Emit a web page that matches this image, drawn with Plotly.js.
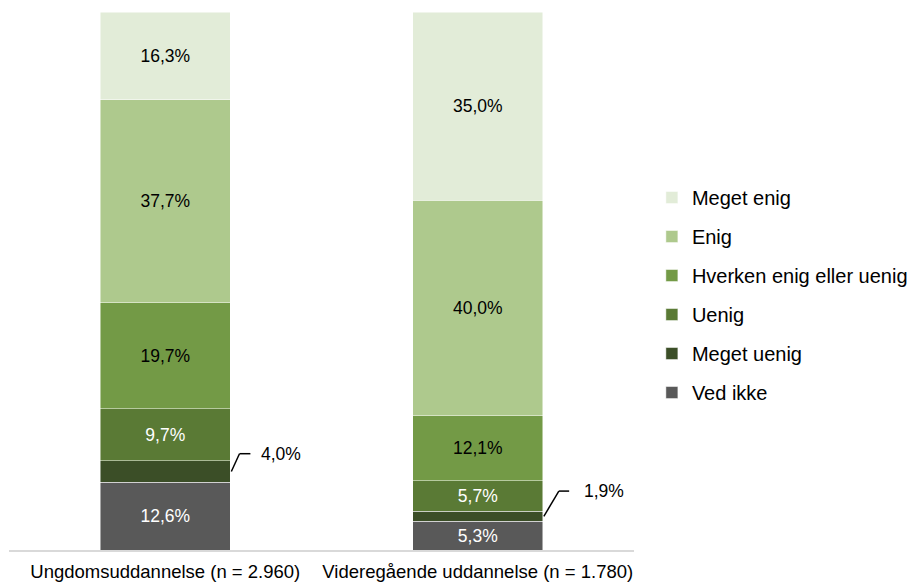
<!DOCTYPE html>
<html>
<head>
<meta charset="utf-8">
<script src="https://cdn.plot.ly/plotly-3.0.1.min.js"></script>
<style>html,body{margin:0;padding:0;background:#fff;}#chart{width:922px;height:582px;}</style>
</head>
<body>
<div id="chart"></div>
<script>
// ---- data ----
var categories = ["Ungdomsuddannelse (n = 2.960)", "Videregående uddannelse (n = 1.780)"];
var seriesNames = ["Ved ikke", "Meget uenig", "Uenig", "Hverken enig eller uenig", "Enig", "Meget enig"];
var vedIkke     = [12.6, 5.3];
var megetUenig  = [4.0, 1.9];
var uenig       = [9.7, 5.7];
var hverken     = [19.7, 12.1];
var enig        = [37.7, 40.0];
var megetEnig   = [16.3, 35.0];

// ---- styles ----
var colors = ["#595959", "#3B4E27", "#5A7A35", "#739A46", "#AEC98D", "#E2ECD8"];
var labelColors = ["#FFFFFF", "#FFFFFF", "#FFFFFF", "#000000", "#000000", "#000000"];
var insideLabel = [true, false, true, true, true, true];
var FONT = '"Liberation Sans", Arial, sans-serif';
var BARWIDTH = 0.415;
// callout offsets for the outside labels (Meget uenig)
var calloutElbowDx = [0.030, 0.052];
var calloutEndDx   = [0.065, 0.085];
var calloutTextDx  = [0.093, 0.126];
var calloutDy      = [3.3, 4.7];

var allSeries = [vedIkke, megetUenig, uenig, hverken, enig, megetEnig];
function fmt(v){ return v.toFixed(1).replace('.', ',') + '%'; }

var traces = allSeries.map(function(vals, i){
  return {
    type: 'bar',
    name: seriesNames[i],
    legendgroup: 'g' + i,
    legendrank: 100 - i,
    x: categories,
    y: vals,
    width: BARWIDTH,
    marker: {color: colors[i], line: {color: 'rgba(255,255,255,0.6)', width: 0.8}},
    text: vals.map(function(v){ return insideLabel[i] ? fmt(v) : ''; }),
    textposition: insideLabel[i] ? 'inside' : 'none',
    insidetextanchor: 'middle',
    textangle: 0,
    constraintext: 'none',
    insidetextfont: {family: FONT, size: 17.5, color: labelColors[i]},
    hoverinfo: 'name+y'
  };
});

// callouts for small segments
var shapes = [];
var annotations = [];
for (var c = 0; c < categories.length; c++) {
  var base = vedIkke[c];
  var mid = base + megetUenig[c] / 2;
  var x0 = c + BARWIDTH / 2 + 0.004;
  var xe = c + BARWIDTH / 2 + calloutElbowDx[c];
  var x2 = c + BARWIDTH / 2 + calloutEndDx[c];
  var yTop = mid + calloutDy[c];
  shapes.push({type: 'line', xref: 'x', yref: 'y', x0: x0, y0: mid, x1: xe, y1: yTop, line: {color: '#000', width: 1.5}});
  shapes.push({type: 'line', xref: 'x', yref: 'y', x0: xe, y0: yTop, x1: x2, y1: yTop, line: {color: '#000', width: 1.5}});
  annotations.push({xref: 'x', yref: 'y', x: c + BARWIDTH / 2 + calloutTextDx[c], y: yTop, text: fmt(megetUenig[c]),
    showarrow: false, xanchor: 'left', yanchor: 'middle', font: {family: FONT, size: 17.5, color: '#000'}});
}

var layout = {
  width: 922, height: 582,
  margin: {l: 9, r: 281, t: 12, b: 32},
  paper_bgcolor: '#fff', plot_bgcolor: '#fff',
  barmode: 'stack',
  font: {family: FONT, color: '#000'},
  xaxis: {type: 'category', range: [-0.5, 1.5], showline: true, linecolor: '#D9D9D9', linewidth: 2,
          ticks: '', ticklabelstandoff: 4, showgrid: false, zeroline: false, tickfont: {family: FONT, size: 18.5, color: '#000'}},
  yaxis: {range: [0, 100], showgrid: false, zeroline: false, showticklabels: false, showline: false, ticks: ''},
  showlegend: true,
  legend: {x: 1.0286, xanchor: 'left', y: 0.6914, yanchor: 'top', traceorder: 'grouped', tracegroupgap: 10,
           font: {family: FONT, size: 20, color: '#000'}, itemwidth: 30, bgcolor: 'rgba(0,0,0,0)'},
  shapes: shapes,
  annotations: annotations
};

Plotly.newPlot('chart', traces, layout, {displayModeBar: false, staticPlot: true});
</script>
</body>
</html>
